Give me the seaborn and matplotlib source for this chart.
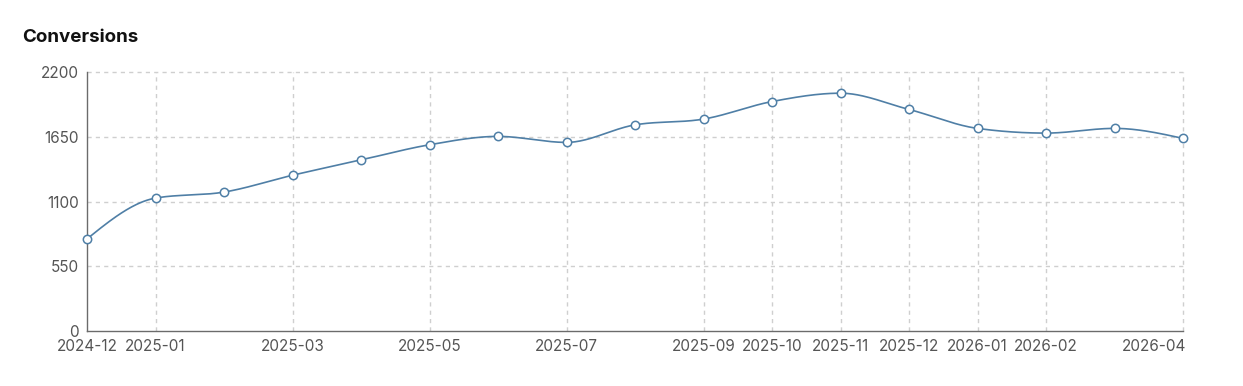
import numpy as np
import pandas as pd
import matplotlib
matplotlib.use("Agg")
import matplotlib.pyplot as plt
import matplotlib.transforms as mtransforms
import seaborn as sns

months = ["2024-12", "2025-01", "2025-02", "2025-03", "2025-04", "2025-05",
          "2025-06", "2025-07", "2025-08", "2025-09", "2025-10", "2025-11",
          "2025-12", "2026-01", "2026-02", "2026-03", "2026-04"]
conversions = [782, 1129, 1180, 1323, 1453, 1582, 1653, 1602, 1751, 1800,
               1949, 2020, 1882, 1721, 1681, 1721, 1636]
tick_labels = ["2024-12", "2025-01", "2025-03", "2025-05", "2025-07", "2025-09",
               "2025-10", "2025-11", "2025-12", "2026-01", "2026-02", "2026-04"]
y_ticks = [0, 550, 1100, 1650, 2200]

LINE = "#4f7fa6"
GRID = "#cfcfcf"
AXIS = "#6b6b6b"
TEXT = "#555555"


def monotone_x(x, y, n=40):
    x = np.asarray(x, float); y = np.asarray(y, float)
    h = np.diff(x); s = np.diff(y) / h
    m = np.zeros_like(y)
    for i in range(1, len(y) - 1):
        if s[i - 1] * s[i] <= 0:
            m[i] = 0
        else:
            p = (s[i - 1] * h[i] + s[i] * h[i - 1]) / (h[i - 1] + h[i])
            m[i] = (np.sign(s[i - 1]) + np.sign(s[i])) * min(abs(s[i - 1]), abs(s[i]), 0.5 * abs(p))
    m[0] = (3 * s[0] - m[1]) / 2
    m[-1] = (3 * s[-1] - m[-2]) / 2
    xs, ys = [], []
    for i in range(len(x) - 1):
        t = np.linspace(0, 1, n, endpoint=(i == len(x) - 2))
        x0, x1 = x[i], x[i + 1]
        dx = (x1 - x0) / 3
        p0, p1 = y[i], y[i] + dx * m[i]
        p2, p3 = y[i + 1] - dx * m[i + 1], y[i + 1]
        bx = (1 - t) ** 3 * x0 + 3 * (1 - t) ** 2 * t * (x0 + dx) + 3 * (1 - t) * t ** 2 * (x1 - dx) + t ** 3 * x1
        by = (1 - t) ** 3 * p0 + 3 * (1 - t) ** 2 * t * p1 + 3 * (1 - t) * t ** 2 * p2 + t ** 3 * p3
        xs.append(bx); ys.append(by)
    return np.concatenate(xs), np.concatenate(ys)


sns.set_theme(style="white")
plt.rcParams["font.family"] = ["Inter", "DejaVu Sans"]

df = pd.DataFrame({"idx": np.arange(len(months)), "month": months, "value": conversions})
sx, sy = monotone_x(df["idx"], df["value"])
curve = pd.DataFrame({"x": sx, "y": sy})

fig = plt.figure(figsize=(12.43, 3.86), dpi=100)
ax = fig.add_axes([87 / 1243, 1 - 331 / 386, (1183 - 87) / 1243, (331 - 72) / 386])

tick_pos = [months.index(t) for t in tick_labels]
for yt in y_ticks[1:]:
    ax.axhline(yt, color=GRID, lw=1, ls=(0, (3, 3)), zorder=0, clip_on=False)
for xp in tick_pos[1:]:
    ax.axvline(xp, color=GRID, lw=1, ls=(0, (3, 3)), zorder=0, clip_on=False)

sns.lineplot(data=curve, x="x", y="y", ax=ax, color=LINE, lw=1.2, sort=False, zorder=3)
sns.scatterplot(data=df, x="idx", y="value", ax=ax, s=36, color="white",
                edgecolor=LINE, linewidth=1.1, zorder=4, clip_on=False)

ax.set_xlim(0, len(months) - 1)
ax.set_ylim(0, 2200)
ax.set_xticks(tick_pos)
ax.set_xticklabels(tick_labels)
ax.set_yticks(y_ticks)
ax.set_yticklabels([str(v) for v in y_ticks])
ax.set_xlabel(""); ax.set_ylabel("")
for side in ["top", "right"]:
    ax.spines[side].set_visible(False)
for side in ["left", "bottom"]:
    ax.spines[side].set_color(AXIS)
    ax.spines[side].set_linewidth(1)
    ax.spines[side].set_zorder(2)
ax.tick_params(axis="both", colors=AXIS, labelcolor=TEXT, labelsize=11,
               length=5, width=1, pad=1, direction="out")
labels = ax.get_xticklabels()
labels[-1].set_horizontalalignment("right")
offset = mtransforms.ScaledTranslation(3 / 100, 0, fig.dpi_scale_trans)
labels[-1].set_transform(labels[-1].get_transform() + offset)

fig.text(22 / 1243, 1 - 37 / 386, "Conversions", fontsize=13.5, fontweight="bold",
         color="#111111", ha="left", va="center")

fig.savefig("out.png", dpi=100, facecolor="white")
